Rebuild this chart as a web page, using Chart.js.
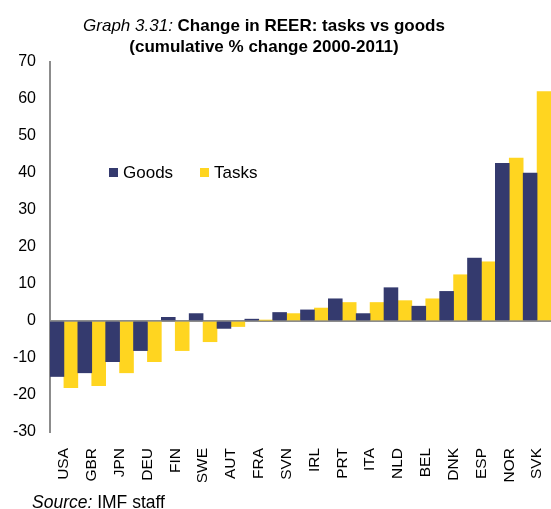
<!DOCTYPE html>
<html>
<head>
<meta charset="utf-8">
<script src="https://cdn.jsdelivr.net/npm/chart.js@4.4.1/dist/chart.umd.min.js"></script>
<style>
  body { margin: 0; background: #fff; font-family: "Liberation Sans", Arial, sans-serif; }
  #wrap { position: relative; width: 551px; height: 509px; overflow: hidden; }
  #chart { position: absolute; left: 0; top: 0; }
  #title { position: absolute; left: 64px; width: 400px; top: 15px; text-align: center;
           font-size: 17px; font-weight: bold; line-height: 21px; color: #000; }
  #title i { font-weight: normal; }
  #source { position: absolute; left: 32px; top: 492px; font-size: 17.5px; line-height: 20px; color: #000; }
</style>
</head>
<body>
<div id="wrap">
  <canvas id="chart" width="551" height="509"></canvas>
  <div id="title"><i>Graph 3.31:</i> Change in REER: tasks vs goods<br>(cumulative % change 2000-2011)</div>
  <div id="source"><i>Source:</i> IMF staff</div>
</div>
<script>
const paises = ['USA', 'GBR', 'JPN', 'DEU', 'FIN', 'SWE', 'AUT', 'FRA', 'SVN', 'IRL', 'PRT', 'ITA', 'NLD', 'BEL', 'DNK', 'ESP', 'NOR', 'SVK'];
const goods = [-15, -14, -11, -8, 1, 2, -2, 0.5, 2.3, 3, 6, 2, 9, 4, 8, 17, 42.6, 40];
const tasks = [-18, -17.5, -14, -11, -8, -5.6, -1.5, 0.2, 2, 3.5, 5, 5, 5.5, 6, 12.5, 16, 44, 62];
const yTicks = [-30, -20, -10, 0, 10, 20, 30, 40, 50, 60, 70];

const gris = '#8c8c8c';

// leyenda dibujada dentro del grafico, como en el original
const leyenda = {
    id: 'leyenda',
    afterDraw(chart) {
        const ctx = chart.ctx;
        ctx.save();
        ctx.font = '17px "Liberation Sans", Arial, sans-serif';
        ctx.textBaseline = 'middle';
        const pos = [109, 200];
        chart.data.datasets.forEach((ds, i) => {
            ctx.fillStyle = ds.backgroundColor;
            ctx.fillRect(pos[i], 168, 9, 9);
            ctx.fillStyle = '#000';
            ctx.fillText(ds.label, pos[i] + 14, 173);
        });
        ctx.restore();
    }
};

new Chart(document.getElementById('chart'), {
    type: 'bar',
    data: {
        labels: paises,
        datasets: [
            { label: 'Goods', data: goods, backgroundColor: '#343a6e', barPercentage: 1, categoryPercentage: 1 },
            { label: 'Tasks', data: tasks, backgroundColor: '#ffd520', barPercentage: 1, categoryPercentage: 1 }
        ]
    },
    options: {
        responsive: false,
        animation: false,
        layout: { autoPadding: false, padding: { top: 62, right: 0, left: 0, bottom: 27 } },
        plugins: { legend: { display: false }, title: { display: false }, tooltip: { enabled: false } },
        scales: {
            x: {
                grid: { display: false, drawTicks: false },
                border: { display: false },
                ticks: { color: '#000', font: { size: 15.5, family: '"Liberation Sans", Arial' }, minRotation: 90, maxRotation: 90, padding: 16, autoSkip: false },
                afterFit(scale) {
                    scale.height = 50;
                    scale.paddingLeft = 0;
                    scale.paddingRight = 0;
                }
            },
            y: {
                min: -30, max: 70,
                afterBuildTicks(scale) { scale.ticks = yTicks.map(v => ({ value: v })); },
                afterFit(scale) { scale.width = 50; },
                border: { color: gris, width: 2 },
                grid: {
                    drawTicks: false,
                    lineWidth: 2,
                    color: c => c.tick && c.tick.value === 0 ? gris : 'rgba(0,0,0,0)'
                },
                ticks: { color: '#000', font: { size: 16, family: '"Liberation Sans", Arial' }, padding: 14 }
            }
        }
    },
    plugins: [leyenda]
});
</script>
</body>
</html>
